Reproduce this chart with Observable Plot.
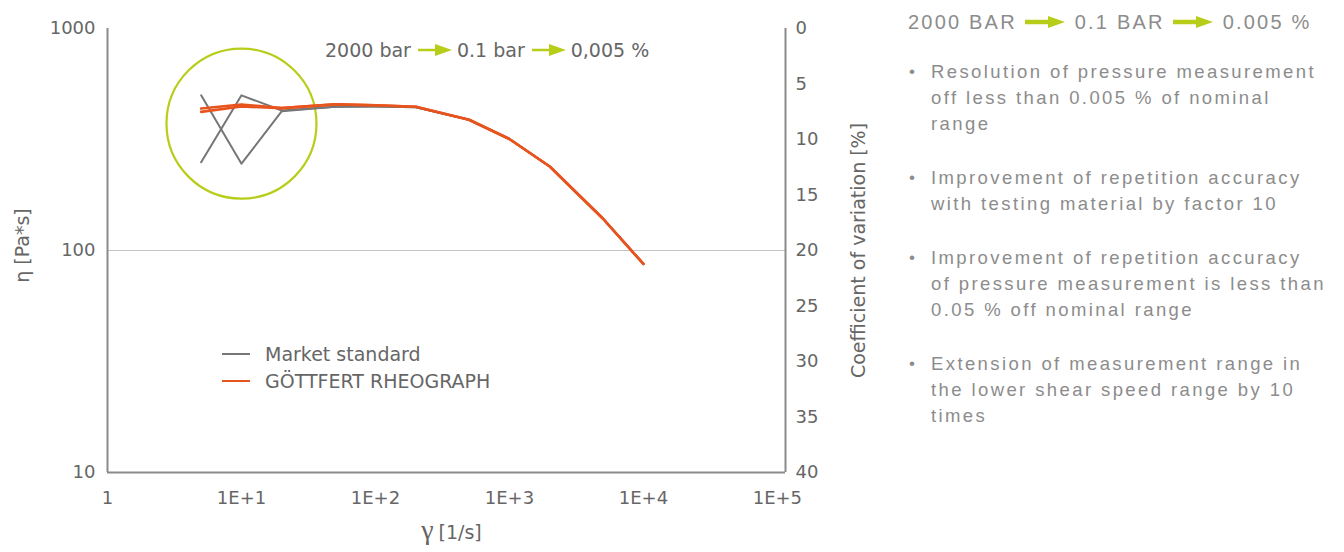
<!DOCTYPE html>
<html>
<head>
<meta charset="utf-8">
<script src="https://cdn.jsdelivr.net/npm/d3@7"></script>
<script src="https://cdn.jsdelivr.net/npm/@observablehq/plot@0.6"></script>
<style>
  html, body { margin: 0; padding: 0; background: #fff; }
  #wrap { position: relative; width: 1344px; height: 552px; overflow: hidden; }
  #chart { position: absolute; left: 0; top: 0; }
  .ov { position: absolute; font-family: "DejaVu Sans", sans-serif; color: #666666; }
  #anno { left: 325px; top: 38px; height: 24px; display: flex; align-items: center; font-size: 19px; white-space: nowrap; }
  #anno svg { margin: 0 5px 0 7px; }
  #legend { left: 222px; top: 340px; font-size: 19px; }
  #legend .row { display: flex; align-items: center; height: 27px; }
  #legend .sw { width: 28px; height: 0; margin-right: 15px; }
  #panel { left: 908px; top: 8px; font-family: "Liberation Sans", Arial, sans-serif; color: #8c8c8c; }
  #panel .hdr { display: flex; align-items: center; height: 28px; font-size: 20px; letter-spacing: 2.2px; white-space: nowrap; }
  #panel .hdr svg { margin: 0 10px 0 8px; }
  #panel .item { position: relative; padding-left: 23px; font-size: 18.5px; line-height: 26px; letter-spacing: 2.4px; white-space: nowrap; margin-top: 28px; }
  #panel .item.first { margin-top: 23px; }
  #panel .item .b { position: absolute; left: 1px; top: 0; font-size: 17px; letter-spacing: 0; }
</style>
</head>
<body>
<div id="wrap">
  <div id="chart"></div>
</div>
<script>
// ---- data ----
const shearRates = [5, 10, 20, 50, 100, 200, 500, 1000, 2000, 5000, 10000];
const marketRun1 = [500, 246, 424, 444, 445, 442, 388, 318, 239, 139, 87];
const marketRun2 = [250, 500, 427, 444, 445, 442, 388, 318, 239, 139, 87];
const goettfertRun1 = [436, 455, 438, 455, 451, 444, 388, 318, 239, 139, 87];
const goettfertRun2 = [421, 445, 438, 455, 451, 444, 388, 318, 239, 139, 87];
const xTicks = [1, 10, 100, 1000, 10000, 100000];
const xTickLabels = ["1", "1E+1", "1E+2", "1E+3", "1E+4", "1E+5"];
const yTicks = [10, 100, 1000];
const cvTicks = [0, 5, 10, 15, 20, 25, 30, 35, 40];
const seriesNames = ["Market standard", "GÖTTFERT RHEOGRAPH"];
const highlight = [{x: 10, y: 373}];
const annotation = ["2000 bar", "0.1 bar", "0,005 %"];
const panelHeader = ["2000 BAR", "0.1 BAR", "0.005 %"];
const panelBullets = [
  ["Resolution of pressure measurement", "off less than 0.005 % of nominal", "range"],
  ["Improvement of repetition accuracy", "with testing material by factor 10"],
  ["Improvement of repetition accuracy", "of pressure measurement is less than", "0.05 % off nominal range"],
  ["Extension of measurement range in", "the lower shear speed range by 10", "times"]
];

const GRAY = "#767676", ORANGE = "#e8541e", GREEN = "#b8cd1a", TXT = "#666666", AX = "#8a8a8a";
const xMax = 115000; // frame extends slightly beyond the last tick, as in the source
const cvToY = d => Math.pow(10, 3 - d / 20); // right axis 0..40 % laid over the 1000..10 log range

const rows = [];
[[marketRun1, "m1", seriesNames[0]], [marketRun2, "m2", seriesNames[0]],
 [goettfertRun1, "g1", seriesNames[1]], [goettfertRun2, "g2", seriesNames[1]]].forEach(([vals, run, s]) => {
  vals.forEach((v, i) => rows.push({x: shearRates[i], y: v, run, series: s}));
});

const chart = Plot.plot({
  width: 900,
  height: 552,
  marginLeft: 107,
  marginRight: 115,
  marginTop: 28,
  marginBottom: 80,
  style: {fontFamily: "DejaVu Sans, sans-serif", fontSize: "18px", color: TXT, background: "transparent", overflow: "visible"},
  x: {type: "log", domain: [1, xMax], axis: null},
  y: {type: "log", domain: [10, 1000], axis: null},
  marks: [
    Plot.ruleY([100], {stroke: "#c4c4c4", strokeWidth: 1.2}),
    Plot.ruleY([10], {stroke: AX, strokeWidth: 2}),
    Plot.ruleX([1], {stroke: AX, strokeWidth: 2}),
    Plot.ruleX([xMax], {stroke: AX, strokeWidth: 2}),
    Plot.text(xTicks, {x: d => d, y: 10, text: (d, i) => xTickLabels[i], dy: 26, fill: TXT, fontSize: 18}),
    Plot.text(yTicks, {x: 1, y: d => d, text: d => String(d), dx: -12, textAnchor: "end", fill: TXT, fontSize: 18}),
    Plot.text(cvTicks, {x: xMax, y: d => cvToY(d), text: d => String(d), dx: 10, textAnchor: "start", fill: TXT, fontSize: 18}),
    Plot.text(["η [Pa*s]"], {frameAnchor: "left", dx: -85, dy: -5, rotate: -90, textAnchor: "middle", fill: TXT, fontSize: 19}),
    Plot.text(["Coefficient of variation [%]"], {frameAnchor: "right", dx: 73, rotate: -90, textAnchor: "middle", fill: TXT, fontSize: 19}),
    Plot.text(["γ"], {frameAnchor: "bottom", dx: -13, dy: 66, textAnchor: "end", fill: TXT, fontSize: 28, fontFamily: "Liberation Serif, serif"}),
    Plot.text(["[1/s]"], {frameAnchor: "bottom", dx: -8, dy: 66, textAnchor: "start", fill: TXT, fontSize: 19}),
    Plot.dot(highlight, {x: "x", y: "y", r: 75, stroke: GREEN, strokeWidth: 2.2, fill: "none"}),
    Plot.line(rows.filter(d => d.series === seriesNames[0]), {x: "x", y: "y", z: "run", stroke: GRAY, strokeWidth: 2}),
    Plot.line(rows.filter(d => d.series === seriesNames[1]), {x: "x", y: "y", z: "run", stroke: ORANGE, strokeWidth: 2.6})
  ]
});
document.getElementById("chart").appendChild(chart);

// ---- overlays: annotation, legend, right text panel ----
const wrap = document.getElementById("wrap");
function arrow(w, h, line) {
  return `<svg width="${w}" height="${h}" viewBox="0 0 ${w} ${h}"><line x1="0" y1="${h/2}" x2="${w - 14}" y2="${h/2}" stroke="${GREEN}" stroke-width="${line}"/><polygon points="${w - 17},${h/2 - 6} ${w},${h/2} ${w - 17},${h/2 + 6}" fill="${GREEN}"/></svg>`;
}
const anno = document.createElement("div");
anno.id = "anno"; anno.className = "ov";
anno.innerHTML = annotation.map(t => `<span>${t}</span>`).join(arrow(34, 14, 2.5));
wrap.appendChild(anno);

const legend = document.createElement("div");
legend.id = "legend"; legend.className = "ov";
legend.innerHTML = seriesNames.map((s, i) =>
  `<div class="row"><span class="sw" style="border-top:2px solid ${i ? ORANGE : GRAY}"></span><span>${s}</span></div>`).join("");
wrap.appendChild(legend);

const panel = document.createElement("div");
panel.id = "panel"; panel.className = "ov";
panel.innerHTML = `<div class="hdr">${panelHeader.map(t => `<span>${t}</span>`).join(arrow(40, 16, 4.5))}</div>` +
  panelBullets.map((lines, i) => `<div class="item${i === 0 ? " first" : ""}"><span class="b">•</span>${lines.join("<br>")}</div>`).join("");
wrap.appendChild(panel);
</script>
</body>
</html>
